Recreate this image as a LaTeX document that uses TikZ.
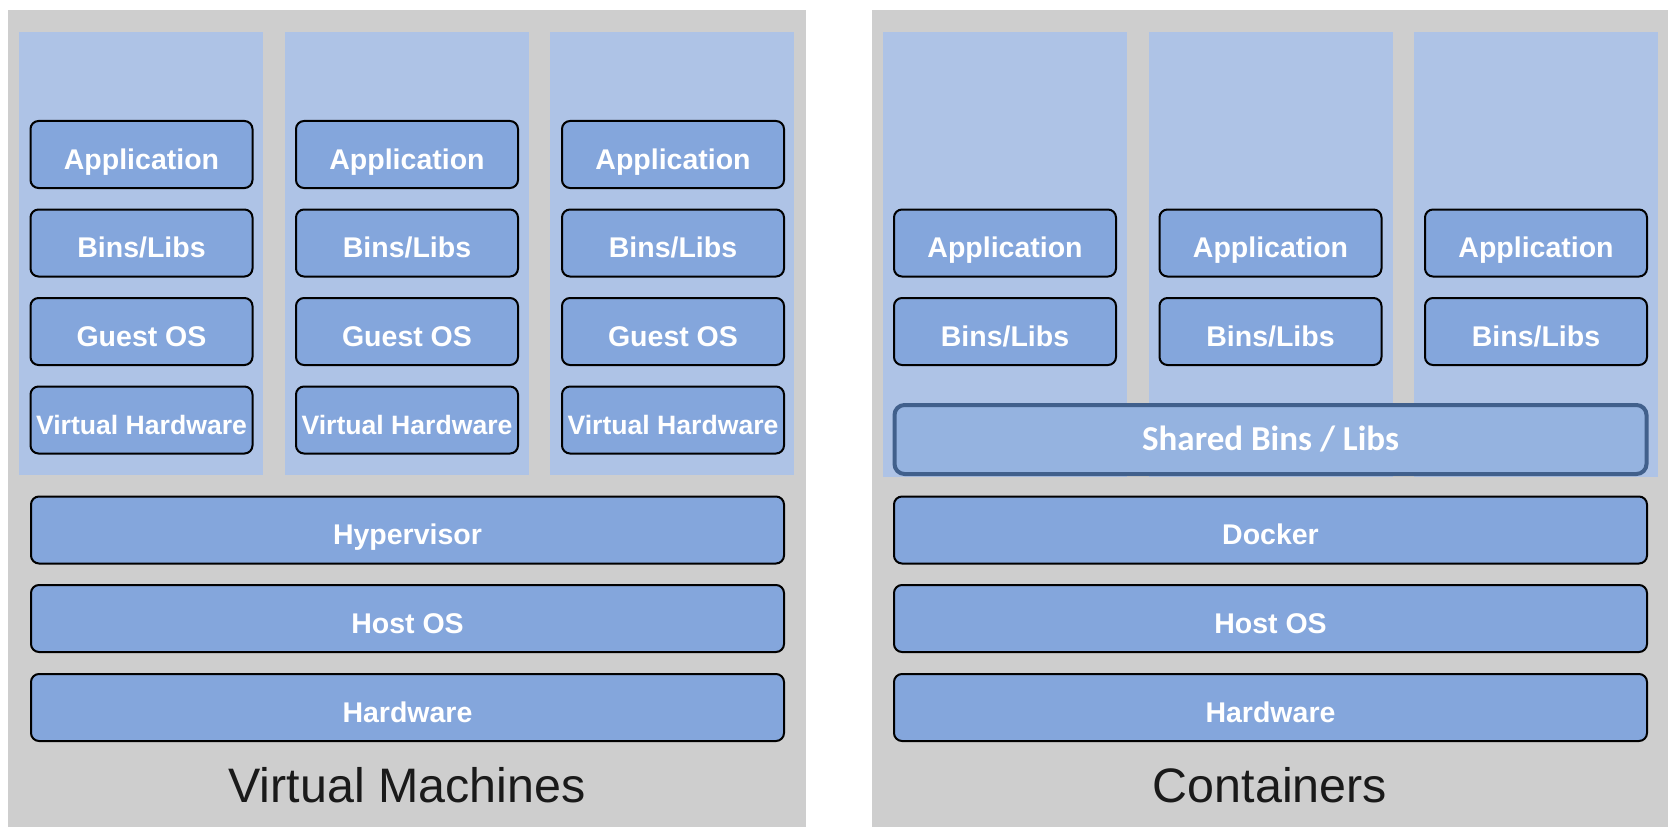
\documentclass[tikz,border=0pt]{standalone}
\usepackage{fontspec}
\setmainfont{Liberation Sans}
\newfontfamily\calibrifont{Carlito}
\definecolor{panelgray}{HTML}{CECECE}
\definecolor{colblue}{HTML}{AEC3E6}
\definecolor{boxblue}{HTML}{84A6DC}
\definecolor{sharedblue}{HTML}{95B3E0}
\definecolor{sharededge}{HTML}{41608C}
\definecolor{titlegray}{HTML}{1A1A1A}
\begin{document}
\begin{tikzpicture}[x=0.5pt,y=-0.5pt,
  panel/.style={fill=panelgray,draw=none},
  column/.style={fill=colblue,draw=none},
  box/.style={draw=black,line width=1pt,rounded corners=4pt,fill=boxblue,
    text=white,inner sep=0pt,minimum height=33.5pt,
    text height=14.7pt,text depth=0pt,
    font=\bfseries\fontsize{14.25}{16}\selectfont},
  small/.style={box,minimum width=111pt},
  wide/.style={box,minimum width=376.5pt},
  vhw/.style={small,text height=14.2pt,font=\bfseries\fontsize{13.3}{15}\selectfont},
  shared/.style={draw=sharededge,line width=2pt,rounded corners=5pt,fill=sharedblue,
    text=white,inner sep=0pt,minimum width=376pt,minimum height=34.5pt,
    font=\calibrifont\bfseries\fontsize{17.5}{20}\selectfont},
  title/.style={text=titlegray,anchor=base,font=\fontsize{24.2}{28}\selectfont}]
\useasboundingbox (0,0) rectangle (1676,840);
% gray panels
\path[panel] (8,10) rectangle (806,827);
\path[panel] (872,10) rectangle (1668,827);
% light-blue columns behind each guest stack
\foreach \cx in {141,407,672} {\path[column] (\cx-122,32) rectangle (\cx+122,475);}
\foreach \cx in {1005,1271,1536} {\path[column] (\cx-122,32) rectangle (\cx+122,477);}
% virtual machine stacks
\foreach \cx/\i in {141.5/1,407/2,673/3} {
  \node[small] (vmapp\i) at (\cx,154.5) {Application};
  \node[small] (vmbins\i) at (\cx,243) {Bins/Libs};
  \node[small] (vmos\i) at (\cx,331.5) {Guest OS};
  \node[vhw] (vmhw\i) at (\cx,420) {Virtual Hardware};
}
\node[wide] (hyper) at (407.5,530) {Hypervisor};
\node[wide] (vmhost) at (407.5,618.5) {Host OS};
\node[wide] (vmhard) at (407.5,707.5) {Hardware};
\node[title] (vmtitle) at (407,802) {Virtual Machines};
% container stacks
\foreach \cx/\i in {1005/1,1270.5/2,1536/3} {
  \node[small] (ctapp\i) at (\cx,243) {Application};
  \node[small] (ctbins\i) at (\cx,331.5) {Bins/Libs};
}
\node[shared] (sharedlibs) at (1270.5,439.5) {Shared Bins / Libs};
\node[wide] (docker) at (1270.5,530) {Docker};
\node[wide] (cthost) at (1270.5,618.5) {Host OS};
\node[wide] (cthard) at (1270.5,707.5) {Hardware};
\node[title] (cttitle) at (1270,802) {Containers};
\end{tikzpicture}
\end{document}
